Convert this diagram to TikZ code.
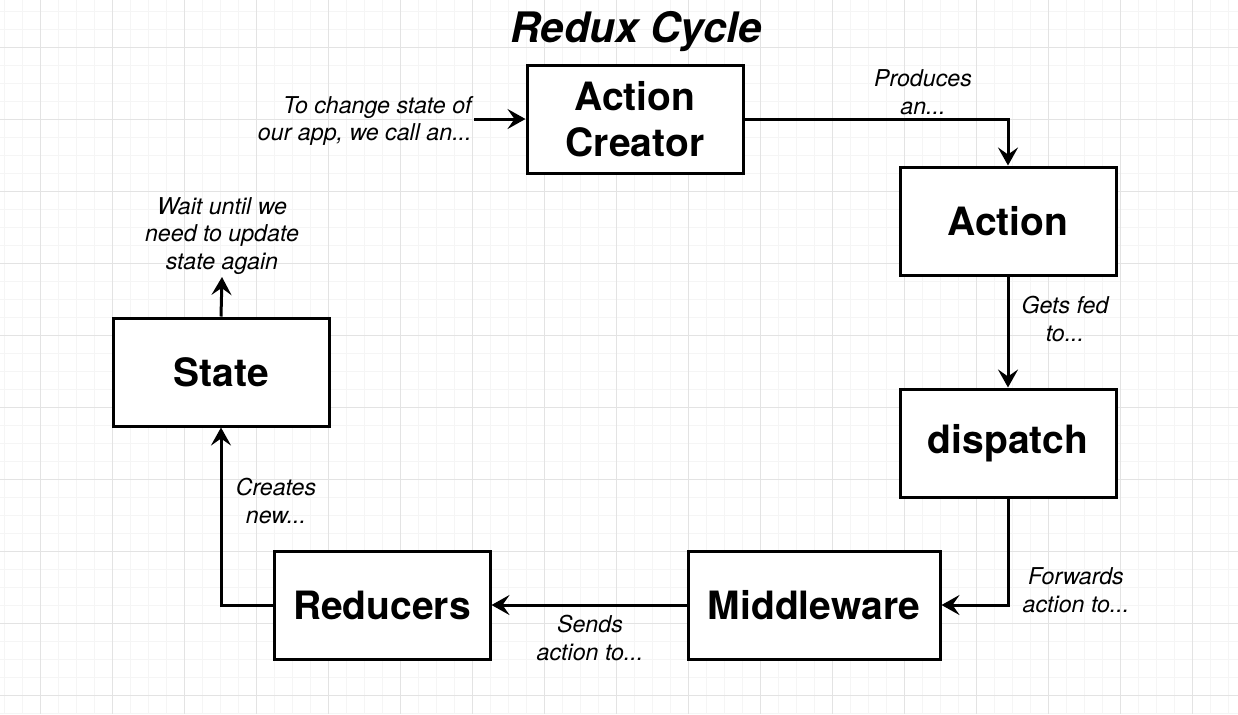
\documentclass[tikz,border=0pt]{standalone}
\usepackage{fontspec}
\setmainfont{TeX Gyre Heros}
\usetikzlibrary{arrows.meta,positioning}

\begin{document}
\begin{tikzpicture}[
  x=0.5pt, y=-0.5pt,
  stagebox/.style={draw, line width=1.5pt, align=center, inner sep=4pt,
              minimum width=108pt, minimum height=54pt,
              font=\fontsize{19.5}{23}\selectfont\bfseries},
  arr/.style={-{Stealth[length=9pt, width=10pt, inset=3.5pt]}, line width=1.5pt},
  lbl/.style={font=\fontsize{11.6}{13.8}\selectfont\itshape, align=center, inner sep=1pt},
  minorgrid/.style={draw=black!4, line width=0.4pt},
  majorgrid/.style={draw=black!11, line width=0.5pt}
]
% background grid
\useasboundingbox[fill=white] (0,0) rectangle (1238,714);
\foreach \gx in {4,22,...,1238} \draw[minorgrid] (\gx,0) -- (\gx,714);
\foreach \gy in {11,29,...,714} \draw[minorgrid] (0,\gy) -- (1238,\gy);
\foreach \gx in {40,112,...,1238} \draw[majorgrid] (\gx,0) -- (\gx,714);
\foreach \gy in {47,119,...,714} \draw[majorgrid] (0,\gy) -- (1238,\gy);

\node[font=\fontsize{21}{24}\selectfont\bfseries\itshape] (title) at (636,32) {Redux Cycle};

\node[stagebox, fill=white] (creator) at (635,119) {Action\\Creator};
\node[stagebox, fill=white] (action) at (1008,221) {Action};
\node[stagebox, fill=white] (dispatch) at (1008,443) {dispatch};
\node[stagebox, fill=white, minimum width=126pt] (middleware) at (814,605) {Middleware};
\node[stagebox, fill=white] (reducers) at (382,605) {Reducers};
\node[stagebox, fill=white] (state) at (221,372) {State};

\node[lbl, align=right, anchor=east] (changelbl) at (474,121) {To change state of\\our app, we call an...};
\node[lbl] (produceslbl) at (923,92) {Produces\\an...};
\node[lbl] (fedlbl) at (1065,319) {Gets fed\\to...};
\node[lbl] (forwardlbl) at (1076,590) {Forwards\\action to...};
\node[lbl] (sendslbl) at (590,638) {Sends\\action to...};
\node[lbl] (createslbl) at (276,501) {Creates\\new...};
\node[lbl] (waitlbl) at (222,236) {Wait until we\\need to update\\state again};

\draw[arr] (changelbl.east |- creator.west) -- (creator.west);
\draw[arr] (creator.east) -| (action.north);
\draw[arr] (action.south) -- (dispatch.north);
\draw[arr] (dispatch.south) |- (middleware.east);
\draw[arr] (middleware.west) -- (reducers.east);
\draw[arr] (reducers.west) -| (state.south);
\draw[arr] (state.north) -- (waitlbl.south);
\end{tikzpicture}
\end{document}
